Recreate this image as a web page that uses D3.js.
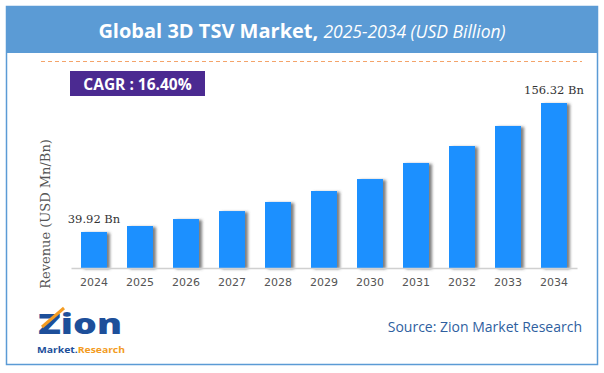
<!DOCTYPE html>
<html>
<head>
<meta charset="utf-8">
<script src="https://cdn.jsdelivr.net/npm/d3@7"></script>
<style>
  body { margin: 0; background: #fff; }
  #graf { width: 604px; height: 373px; }
</style>
</head>
<body>
<div id="graf"></div>
<script>
// I. Datos
anios = ['2024', '2025', '2026', '2027', '2028', '2029', '2030', '2031', '2032', '2033', '2034']
ingresos = [39.92, 45.3, 51.6, 58.8, 67.0, 76.9, 87.7, 102.2, 117.5, 135.6, 156.32]
etiquetas = ['39.92 Bn', '', '', '', '', '', '', '', '', '', '156.32 Bn']
cagr = 'CAGR : 16.40%'

// II. Configuración
ancho_total = 604
alto_total = 373

svg = d3.select('#graf').append('svg')
        .attr('width', ancho_total)
        .attr('height', alto_total)

defs = svg.append('defs')
sombra = defs.append('filter')
             .attr('id', 'sombra')
             .attr('x', '-20%').attr('y', '-10%')
             .attr('width', '160%').attr('height', '130%')
sombra.append('feDropShadow')
      .attr('dx', 3).attr('dy', 1)
      .attr('stdDeviation', 1.6)
      .attr('flood-color', '#555')
      .attr('flood-opacity', 0.75)

// marco y cabecera
svg.append('rect')
   .attr('x', 6.5).attr('y', 6.5)
   .attr('width', 591).attr('height', 358)
   .attr('fill', '#fff')
   .attr('stroke', '#5b9bd5')
   .attr('stroke-width', 1.5)

svg.append('rect')
   .attr('x', 6).attr('y', 6)
   .attr('width', 592).attr('height', 47)
   .attr('fill', '#5b9bd5')

titulo = svg.append('text')
            .attr('x', 302)
            .attr('y', 38)
            .attr('text-anchor', 'middle')
            .attr('fill', '#fff')
            .style('font-family', 'Open Sans, sans-serif')
            .style('font-size', '20px')
titulo.append('tspan')
      .style('font-weight', 'bold')
      .text('Global 3D TSV Market, ')
titulo.append('tspan')
      .style('font-style', 'italic')
      .style('font-size', '17.5px')
      .text('2025-2034 (USD Billion)')

// línea punteada
svg.append('line')
   .attr('x1', 41).attr('x2', 582)
   .attr('y1', 61.5).attr('y2', 61.5)
   .attr('stroke', '#f4a46a')
   .attr('stroke-width', 1)
   .attr('stroke-dasharray', '4,3')

// CAGR
svg.append('rect')
   .attr('x', 70).attr('y', 71)
   .attr('width', 135).attr('height', 25)
   .attr('fill', '#4b2a91')
svg.append('text')
   .attr('x', 137.5).attr('y', 89.5)
   .attr('text-anchor', 'middle')
   .attr('fill', '#fff')
   .style('font-family', 'Open Sans, sans-serif')
   .style('font-weight', 'bold')
   .style('font-size', '15.5px')
   .text(cagr)

// III. Escaladores
x = d3.scaleBand()
      .domain(anios)
      .range([71, 577])
      .paddingInner(0.435)
      .paddingOuter(0.2175)

y = d3.scaleLinear()
      .domain([7.4, 156.32])
      .range([268, 103])

// barras
svg.append('g')
   .selectAll('rect')
   .data(ingresos)
   .enter()
   .append('rect')
     .attr('x', (d, i) => x(anios[i]))
     .attr('y', d => y(d))
     .attr('width', x.bandwidth())
     .attr('height', d => 268 - y(d))
     .attr('fill', '#1e90ff')
     .attr('filter', 'url(#sombra)')

// eje x
xAxisGroup = svg.append('g')
                .attr('transform', 'translate(0, 268)')
xAxisGroup.call(d3.axisBottom(x).tickSize(0).tickPadding(10))
xAxisGroup.select('.domain')
          .attr('stroke', '#d0d0d0')
          .attr('stroke-width', 1.5)
xAxisGroup.selectAll('text')
          .attr('fill', '#555')
          .style('font-family', 'DejaVu Sans, sans-serif')
          .style('font-size', '11px')

// etiquetas de valores
svg.append('g')
   .selectAll('text')
   .data(ingresos)
   .enter()
   .append('text')
     .attr('x', (d, i) => x(anios[i]) + x.bandwidth() / 2)
     .attr('y', d => y(d) - 9)
     .attr('text-anchor', 'middle')
     .attr('fill', '#333')
     .style('font-family', 'DejaVu Serif, serif')
     .style('font-size', '11.5px')
     .text((d, i) => etiquetas[i])

// título eje y
svg.append('text')
   .attr('transform', 'translate(50, 214) rotate(-90)')
   .attr('text-anchor', 'middle')
   .attr('fill', '#555')
   .style('font-family', 'DejaVu Serif, serif')
   .style('font-size', '13px')
   .text('Revenue (USD Mn/Bn)')

// fuente
svg.append('text')
   .attr('x', 582).attr('y', 332)
   .attr('text-anchor', 'end')
   .attr('fill', '#2f5f9f')
   .style('font-family', 'Open Sans, sans-serif')
   .style('font-size', '14px')
   .text('Source: Zion Market Research')

// logo
svg.append('text')
   .attr('x', 38).attr('y', 334)
   .attr('fill', '#1d4f9a')
   .attr('textLength', 84)
   .attr('lengthAdjust', 'spacingAndGlyphs')
   .style('font-family', 'Open Sans, sans-serif')
   .style('font-weight', '800')
   .style('font-size', '29px')
   .text('Zion')
svg.append('line')
   .attr('x1', 42).attr('y1', 327).attr('x2', 64).attr('y2', 308)
   .attr('stroke', '#f39c23')
   .attr('stroke-width', 3)
marca = svg.append('text')
           .attr('x', 37).attr('y', 353)
           .attr('textLength', 88)
           .attr('lengthAdjust', 'spacingAndGlyphs')
           .style('font-family', 'Open Sans, sans-serif')
           .style('font-weight', 'bold')
           .style('font-size', '9.5px')
marca.append('tspan').attr('fill', '#1d4f9a').text('Market.')
marca.append('tspan').attr('fill', '#f39c23').text('Research')
</script>
</body>
</html>
